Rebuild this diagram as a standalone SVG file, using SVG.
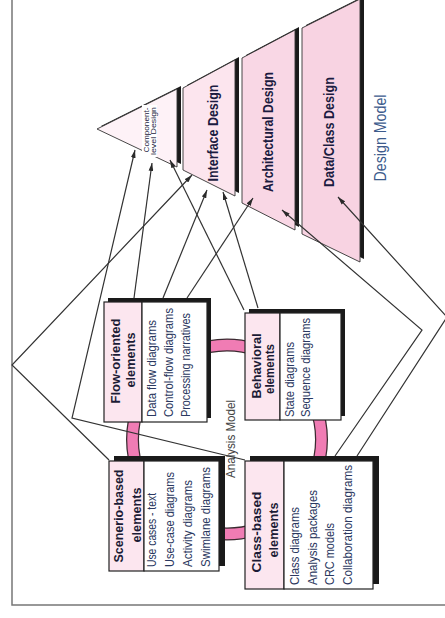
<svg xmlns="http://www.w3.org/2000/svg" width="445" height="618" viewBox="0 0 445 618">
<defs>
<marker id="ah" viewBox="0 0 10 6" refX="10" refY="3" markerWidth="8" markerHeight="5" markerUnits="userSpaceOnUse" orient="auto">
<path d="M0,0 L10,3 L0,6 Z" fill="#2a2a2a"/>
</marker>
<style>
.f{font-family:"Liberation Sans",Arial,sans-serif}
.ttl{font-weight:bold;font-size:13px;fill:#1b1b35}
.itm{font-size:12px;fill:#2b3860}
.dt{font-weight:bold;font-size:14px;fill:#1b1b40}
.shd{fill:#1a1a1a}
.sec{stroke:#333;stroke-width:0.9}
.hd{fill:#fce6ef;stroke:#222;stroke-width:1.2}
.bd{fill:#ffffff;stroke:#222;stroke-width:1.2}
.cn{fill:none;stroke:#333;stroke-width:1.2}
</style>
</defs>
<rect width="445" height="618" fill="#ffffff"/>
<g id="frame" fill="none" stroke="#777" stroke-width="1.5">
<polyline points="12,0 12,605 445,605"/>
</g>

<g id="design-model">
<g id="component-level">
<polygon class="shd" points="101,126 181,86 181,164"/>
<polygon class="sec" fill="#fef2f7" points="97,129 177,89 177,167"/>
<rect x="142" y="105" width="15" height="52" fill="#ffffff"/>
<text class="f" font-size="6.5" fill="#1b1b40" text-anchor="middle" transform="translate(149,130) rotate(-90)" textLength="45" lengthAdjust="spacingAndGlyphs">Component-</text>
<text class="f" font-size="6.5" fill="#1b1b40" text-anchor="middle" transform="translate(155.5,131) rotate(-90)" textLength="48" lengthAdjust="spacingAndGlyphs">level Design</text>
</g>
<g id="interface-design">
<polygon class="shd" points="187,85 239,57 239,193 187,167"/>
<polygon class="sec" fill="#fce5ee" points="183,88 235,60 235,196 183,170"/>
<text class="f dt" text-anchor="middle" transform="translate(218,133) rotate(-90)" textLength="97" lengthAdjust="spacingAndGlyphs">Interface Design</text>
</g>
<g id="architectural-design">
<polygon class="shd" points="246,55 299,27 299,227 246,200"/>
<polygon class="sec" fill="#f9d7e5" points="242,58 295,30 295,230 242,203"/>
<text class="f dt" text-anchor="middle" transform="translate(273,132) rotate(-90)" textLength="120" lengthAdjust="spacingAndGlyphs">Architectural Design</text>
</g>
<g id="data-class-design">
<polygon class="shd" points="306,25 364,-4 364,259 306,231"/>
<polygon class="sec" fill="#f8d3e2" points="302,28 360,-1 360,262 302,234"/>
<text class="f dt" text-anchor="middle" transform="translate(334,132) rotate(-90)" textLength="110" lengthAdjust="spacingAndGlyphs">Data/Class Design</text>
</g>
<text id="design-model-label" class="f" font-size="16" fill="#3d5b8c" text-anchor="middle" transform="translate(386,138) rotate(-90)" textLength="87" lengthAdjust="spacingAndGlyphs">Design Model</text>
</g>

<g id="analysis-ring">
<circle cx="227" cy="439.5" r="94.5" fill="none" stroke="#3a2a30" stroke-width="13"/>
<circle cx="227" cy="439.5" r="94.5" fill="none" stroke="#f07cb4" stroke-width="10.5"/>
<text class="f" font-size="12" fill="#444" text-anchor="middle" transform="translate(235,439) rotate(-90)" textLength="78" lengthAdjust="spacingAndGlyphs">Analysis Model</text>
</g>

<g id="flow-oriented">
<rect class="shd" x="108" y="298" width="103" height="120"/>
<rect class="hd" x="104" y="302" width="38" height="120"/>
<rect class="bd" x="142" y="302" width="65" height="120"/>
<text class="f ttl" text-anchor="middle" transform="translate(120,361) rotate(-90)" textLength="85" lengthAdjust="spacingAndGlyphs">Flow-oriented</text>
<text class="f ttl" text-anchor="middle" transform="translate(135,360) rotate(-90)" textLength="55" lengthAdjust="spacingAndGlyphs">elements</text>
<text class="f itm" transform="translate(156,417) rotate(-90)" textLength="97" lengthAdjust="spacingAndGlyphs">Data flow diagrams</text>
<text class="f itm" transform="translate(173,417) rotate(-90)" textLength="109" lengthAdjust="spacingAndGlyphs">Control-flow diagrams</text>
<text class="f itm" transform="translate(190,417) rotate(-90)" textLength="104" lengthAdjust="spacingAndGlyphs">Processing narratives</text>
</g>

<g id="behavioral">
<rect class="shd" x="249" y="309" width="96" height="107"/>
<rect class="hd" x="245" y="313" width="35" height="107"/>
<rect class="bd" x="280" y="313" width="61" height="107"/>
<text class="f ttl" text-anchor="middle" transform="translate(261,366) rotate(-90)" textLength="65" lengthAdjust="spacingAndGlyphs">Behavioral</text>
<text class="f ttl" text-anchor="middle" transform="translate(274,369) rotate(-90)" textLength="50" lengthAdjust="spacingAndGlyphs">elements</text>
<text class="f itm" transform="translate(294,417) rotate(-90)" textLength="75" lengthAdjust="spacingAndGlyphs">State diagrams</text>
<text class="f itm" transform="translate(310,417) rotate(-90)" textLength="99" lengthAdjust="spacingAndGlyphs">Sequence diagrams</text>
</g>

<g id="scenario-based">
<rect class="shd" x="114" y="456" width="111" height="110"/>
<rect class="hd" x="109" y="461" width="35" height="110"/>
<rect class="bd" x="144" y="461" width="75" height="110"/>
<text class="f ttl" text-anchor="middle" transform="translate(123,516) rotate(-90)" textLength="93" lengthAdjust="spacingAndGlyphs">Scenerio-based</text>
<text class="f ttl" text-anchor="middle" transform="translate(141,515) rotate(-90)" textLength="55" lengthAdjust="spacingAndGlyphs">elements</text>
<text class="f itm" transform="translate(156,567) rotate(-90)" textLength="74" lengthAdjust="spacingAndGlyphs">Use cases - text</text>
<text class="f itm" transform="translate(174,567) rotate(-90)" textLength="95" lengthAdjust="spacingAndGlyphs">Use-case diagrams</text>
<text class="f itm" transform="translate(192,567) rotate(-90)" textLength="87" lengthAdjust="spacingAndGlyphs">Activity diagrams</text>
<text class="f itm" transform="translate(210,567) rotate(-90)" textLength="100" lengthAdjust="spacingAndGlyphs">Swimlane diagrams</text>
</g>

<g id="class-based">
<rect class="shd" x="250" y="456" width="129" height="128"/>
<rect class="hd" x="245" y="461" width="39" height="128"/>
<rect class="bd" x="284" y="461" width="89" height="128"/>
<text class="f ttl" text-anchor="middle" transform="translate(261,532) rotate(-90)" textLength="81" lengthAdjust="spacingAndGlyphs">Class-based</text>
<text class="f ttl" text-anchor="middle" transform="translate(278,530) rotate(-90)" textLength="55" lengthAdjust="spacingAndGlyphs">elements</text>
<text class="f itm" transform="translate(299,585) rotate(-90)" textLength="78" lengthAdjust="spacingAndGlyphs">Class diagrams</text>
<text class="f itm" transform="translate(317,585) rotate(-90)" textLength="95" lengthAdjust="spacingAndGlyphs">Analysis packages</text>
<text class="f itm" transform="translate(334,585) rotate(-90)" textLength="62" lengthAdjust="spacingAndGlyphs">CRC models</text>
<text class="f itm" transform="translate(352,585) rotate(-90)" textLength="120" lengthAdjust="spacingAndGlyphs">Collaboration diagrams</text>
</g>

<g id="connectors">
<polyline class="cn" marker-end="url(#ah)" points="109,460 12,365 192,175"/>
<polyline class="cn" marker-end="url(#ah)" points="245,460 72,418 135,150"/>
<polyline class="cn" marker-end="url(#ah)" points="134,298 152,163"/>
<polyline class="cn" marker-end="url(#ah)" points="163,298 207,190"/>
<polyline class="cn" marker-end="url(#ah)" points="187,298 253,198"/>
<polyline class="cn" marker-end="url(#ah)" points="244,310 170,160"/>
<polyline class="cn" marker-end="url(#ah)" points="258,308 223,192"/>
<polyline class="cn" marker-end="url(#ah)" points="335,456 422,330 282,210"/>
<polyline class="cn" marker-end="url(#ah)" points="357,456 447,317 338,197"/>
</g>
</svg>
